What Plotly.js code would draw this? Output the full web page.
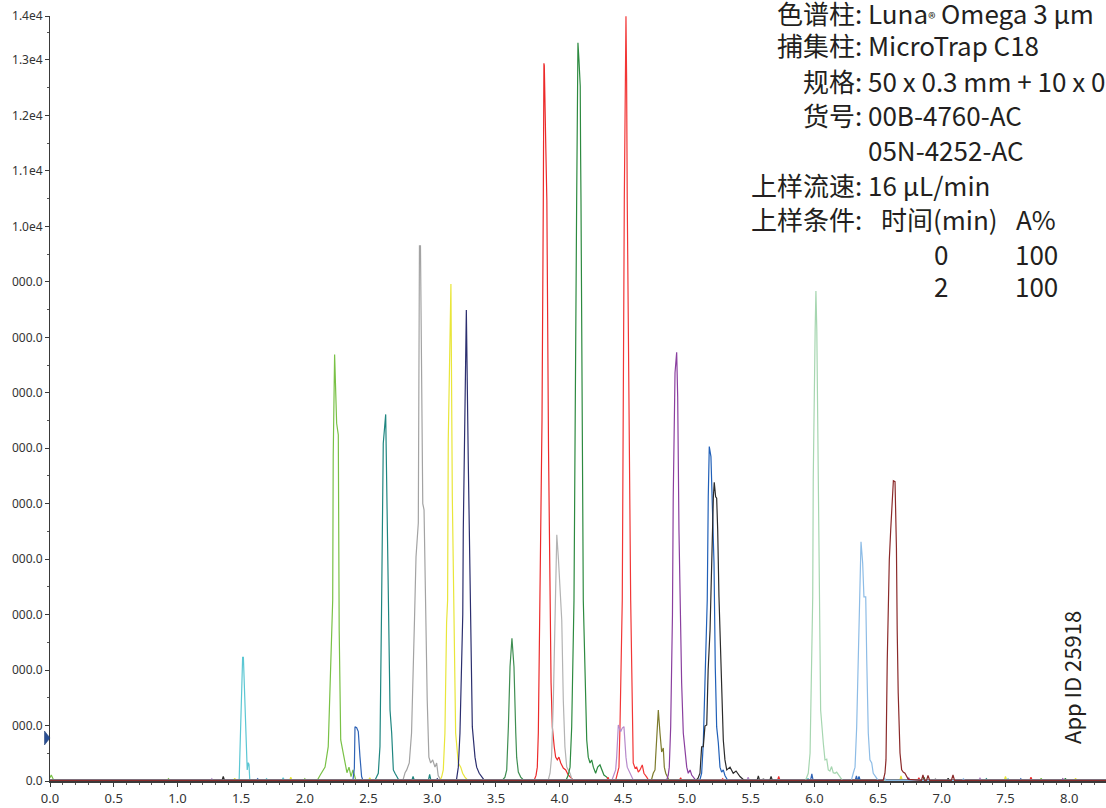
<!DOCTYPE html>
<html>
<head>
<meta charset="utf-8">
<script src="https://cdn.plot.ly/plotly-3.0.1.min.js"></script>
<style>html,body{margin:0;padding:0;background:#fff;}#chart{width:1106px;height:808px;}</style>
</head>
<body>
<div id="chart"></div>
<script>
// ---- Data (retention time in min, intensity in counts) ----
const cyanX = [0, 1.40, 1.48, 1.485, 1.512, 1.518, 1.548, 1.556, 1.562, 1.568, 1.60, 1.69, 1.70, 1.71, 1.82, 1.83, 1.84, 5.94, 5.95, 5.96, 7.51, 7.52, 7.53, 8.3];
const cyanY = [10, 10, 10, 40, 2230, 2230, 200, 330, 300, 20, 10, 10, 40, 10, 10, 60, 10, 10, 50, 10, 10, 40, 10, 10];

const lgreenX = [0, 0.01, 0.03, 0.92, 0.93, 0.94, 1.99, 2.00, 2.01, 2.10, 2.119, 2.159, 2.184, 2.206, 2.219, 2.223, 2.234, 2.250, 2.263, 2.270, 2.282, 2.302, 2.316, 2.331, 2.347, 2.363, 2.378, 2.40, 7.77, 7.78, 7.79, 8.3];
const lgreenY = [60, 110, 10, 10, 40, 10, 10, 40, 10, 20, 100, 250, 620, 2050, 3260, 5850, 7690, 6450, 6240, 2720, 740, 500, 325, 150, 250, 80, 200, 20, 10, 50, 10, 10];

const blueSmallX = [0, 1.62, 1.63, 1.64, 2.36, 2.378, 2.389, 2.394, 2.407, 2.420, 2.433, 2.446, 2.457, 5.97, 5.98, 5.99, 6.32, 6.33, 6.34, 7.61, 7.62, 7.63, 8.3];
const blueSmallY = [10, 10, 40, 10, 10, 20, 230, 980, 960, 890, 440, 80, 10, 10, 130, 10, 10, 90, 10, 10, 40, 10, 10];

const tealX = [0, 2.55, 2.577, 2.590, 2.602, 2.612, 2.616, 2.635, 2.648, 2.651, 2.669, 2.682, 2.695, 2.708, 2.724, 2.74, 2.84, 2.85, 2.86, 2.97, 2.98, 2.99, 7.34, 7.35, 7.36, 8.3];
const tealY = [10, 10, 140, 620, 3000, 4650, 6090, 6610, 4520, 3260, 1280, 865, 200, 140, 70, 10, 10, 80, 10, 10, 120, 10, 10, 40, 10, 10];

const grayX = [0, 2.77, 2.787, 2.800, 2.820, 2.838, 2.861, 2.873, 2.891, 2.900, 2.908, 2.924, 2.926, 2.936, 2.951, 2.961, 2.974, 2.988, 3.004, 3.022, 3.035, 3.047, 3.07, 5.59, 5.60, 5.61, 6.94, 6.95, 6.96, 8.3];
const grayY = [10, 10, 150, 200, 325, 865, 2900, 4040, 4650, 9650, 9650, 5400, 5000, 4890, 2720, 1460, 430, 325, 380, 250, 325, 100, 10, 10, 50, 10, 10, 40, 10, 10];

const yellowX = [0, 1.44, 1.45, 1.46, 1.88, 1.89, 1.90, 2.50, 2.51, 2.52, 3.06, 3.074, 3.087, 3.100, 3.113, 3.121, 3.126, 3.147, 3.158, 3.171, 3.184, 3.205, 3.224, 3.239, 3.257, 3.28, 6.67, 6.68, 6.69, 7.49, 7.50, 7.51, 8.04, 8.05, 8.06, 8.3];
const yellowY = [10, 10, 50, 10, 10, 70, 10, 10, 60, 10, 10, 70, 200, 865, 2850, 3260, 6150, 8960, 5120, 2900, 865, 325, 250, 140, 70, 10, 10, 90, 10, 10, 80, 10, 10, 50, 10, 10];

const navyX = [0, 3.03, 3.04, 3.05, 3.19, 3.205, 3.218, 3.240, 3.244, 3.257, 3.268, 3.283, 3.297, 3.300, 3.315, 3.336, 3.349, 3.369, 3.388, 3.41, 8.3];
const navyY = [10, 10, 40, 10, 10, 250, 865, 3000, 4520, 7000, 8490, 5790, 3930, 3300, 975, 430, 250, 140, 70, 10, 10];

const dgreenX = [0, 3.55, 3.571, 3.585, 3.598, 3.611, 3.626, 3.642, 3.656, 3.663, 3.676, 3.695, 3.72, 8.3];
const dgreenY = [10, 10, 70, 200, 980, 2060, 2573, 2060, 865, 430, 160, 70, 10, 10];

const redAX = [0, 3.80, 3.815, 3.825, 3.833, 3.846, 3.862, 3.872, 3.877, 3.880, 3.892, 3.900, 3.913, 3.925, 3.933, 3.943, 3.951, 3.958, 3.969, 3.982, 3.995, 4.009, 4.029, 4.048, 4.068, 4.087, 4.11, 4.94, 4.95, 4.96, 5.71, 5.72, 5.73, 6.81, 6.82, 6.83, 7.69, 7.70, 7.71, 8.3];
const redAY = [10, 10, 100, 250, 865, 3260, 6500, 10400, 12940, 12900, 11400, 10470, 6000, 3260, 1770, 975, 685, 613, 430, 380, 430, 325, 234, 200, 108, 70, 10, 10, 60, 10, 10, 80, 10, 10, 60, 10, 10, 70, 10, 10];

const lgrayX = [0, 3.91, 3.925, 3.937, 3.951, 3.964, 3.978, 3.991, 4.009, 4.017, 4.029, 4.042, 4.056, 4.068, 4.082, 4.10, 8.3];
const lgrayY = [10, 10, 140, 430, 1460, 3260, 4440, 4000, 3260, 2900, 1460, 613, 250, 200, 140, 10, 10];

const greenX = [0, 4.05, 4.068, 4.082, 4.095, 4.113, 4.134, 4.144, 4.152, 4.162, 4.165, 4.168, 4.186, 4.199, 4.213, 4.225, 4.239, 4.252, 4.265, 4.283, 4.299, 4.317, 4.330, 4.348, 4.370, 4.39, 6.85, 6.86, 6.87, 7.96, 7.97, 7.98, 8.3];
const greenY = [10, 10, 108, 250, 975, 3260, 10475, 13310, 13000, 12530, 11300, 10475, 3260, 1770, 740, 430, 325, 380, 250, 140, 250, 290, 200, 108, 70, 10, 10, 70, 10, 10, 50, 10, 10];

const redBX = [0, 4.37, 4.38, 4.39, 4.44, 4.453, 4.466, 4.474, 4.492, 4.508, 4.515, 4.521, 4.526, 4.529, 4.531, 4.558, 4.570, 4.578, 4.592, 4.605, 4.618, 4.631, 4.649, 4.662, 4.684, 4.70, 5.27, 5.28, 5.29, 8.3];
const redBY = [10, 10, 70, 10, 10, 108, 250, 975, 3260, 10480, 12500, 13790, 12690, 11380, 10480, 3260, 1150, 325, 234, 250, 160, 200, 290, 140, 70, 10, 10, 40, 10, 10];

const lpurpleX = [0, 1.26, 1.27, 1.28, 4.41, 4.427, 4.440, 4.448, 4.461, 4.479, 4.492, 4.505, 4.513, 4.521, 4.531, 4.553, 4.566, 4.58, 5.47, 5.48, 5.49, 7.29, 7.30, 7.31, 8.3];
const lpurpleY = [10, 10, 40, 10, 10, 108, 200, 430, 1010, 890, 955, 980, 685, 430, 250, 140, 50, 10, 10, 70, 10, 10, 60, 10, 10];

const oliveX = [0, 4.72, 4.735, 4.749, 4.754, 4.762, 4.775, 4.788, 4.801, 4.814, 4.822, 4.833, 4.845, 4.86, 8.3];
const oliveY = [10, 10, 140, 200, 430, 865, 1280, 865, 523, 595, 250, 140, 70, 10, 10];

const purpleX = [0, 4.84, 4.853, 4.861, 4.872, 4.886, 4.892, 4.906, 4.919, 4.927, 4.937, 4.945, 4.958, 4.971, 4.984, 4.998, 5.010, 5.024, 5.037, 5.049, 5.07, 6.73, 6.74, 6.75, 7.94, 7.95, 7.96, 8.3];
const purpleY = [10, 10, 108, 250, 975, 3000, 5120, 7356, 7730, 6920, 4525, 3100, 1767, 865, 505, 250, 140, 200, 108, 70, 10, 10, 60, 10, 10, 40, 10, 10];

const blueX = [0, 5.10, 5.115, 5.128, 5.141, 5.159, 5.167, 5.175, 5.188, 5.199, 5.212, 5.222, 5.233, 5.246, 5.259, 5.272, 5.285, 5.298, 5.32, 6.34, 6.35, 6.36, 8.3];
const blueY = [10, 10, 140, 685, 1767, 3264, 5120, 6030, 5850, 5065, 3930, 2055, 975, 685, 250, 160, 200, 100, 10, 10, 80, 10, 10];

const blackX = [0, 1.35, 1.36, 1.37, 5.07, 5.087, 5.102, 5.115, 5.128, 5.141, 5.155, 5.166, 5.181, 5.194, 5.207, 5.214, 5.225, 5.233, 5.241, 5.251, 5.259, 5.272, 5.285, 5.298, 5.312, 5.338, 5.363, 5.385, 5.416, 5.45, 5.55, 5.56, 5.57, 5.65, 5.66, 5.67, 7.04, 7.05, 7.06, 8.3];
const blackY = [10, 10, 80, 10, 10, 50, 140, 618, 620, 990, 1010, 2000, 2720, 4040, 5120, 5385, 5125, 5100, 4525, 3320, 2780, 1880, 740, 380, 200, 250, 140, 180, 80, 10, 10, 90, 10, 10, 80, 10, 10, 50, 10, 10];

const pgreenX = [0, 5.93, 5.952, 5.966, 5.987, 5.991, 6.006, 6.012, 6.019, 6.031, 6.038, 6.044, 6.049, 6.070, 6.083, 6.097, 6.109, 6.122, 6.135, 6.148, 6.162, 6.175, 6.201, 6.22, 8.3];
const pgreenY = [10, 10, 140, 500, 3320, 5430, 8130, 8835, 8130, 5120, 3985, 2850, 1280, 685, 380, 395, 200, 180, 260, 150, 140, 160, 70, 10, 10];

const lblueX = [0, 6.29, 6.305, 6.319, 6.332, 6.345, 6.354, 6.358, 6.366, 6.379, 6.389, 6.403, 6.406, 6.411, 6.423, 6.436, 6.450, 6.462, 6.483, 6.50, 6.54, 6.55, 6.56, 7.16, 7.17, 7.18, 8.3];
const lblueY = [10, 10, 140, 250, 975, 2490, 3300, 3985, 4315, 3930, 3320, 3320, 2720, 2180, 865, 380, 325, 140, 70, 10, 10, 60, 10, 10, 40, 10, 10];

const maroonX = [0, 6.54, 6.554, 6.562, 6.572, 6.588, 6.599, 6.611, 6.620, 6.633, 6.641, 6.644, 6.650, 6.658, 6.672, 6.685, 6.697, 6.711, 6.737, 6.84, 6.852, 6.865, 6.88, 6.892, 6.905, 7.075, 7.088, 7.10, 8.3];
const maroonY = [10, 10, 140, 380, 2180, 3985, 4525, 5200, 5415, 5400, 4525, 4200, 2720, 1585, 505, 200, 160, 140, 30, 10, 110, 10, 10, 100, 10, 10, 110, 10, 10];

// axis tick labels
const yTickVals = [0, 1000, 2000, 3000, 4000, 5000, 6000, 7000, 8000, 9000, 10000, 11000, 12000, 13000, 13793];
const yTickText = ['0.0', '000.0', '000.0', '000.0', '000.0', '000.0', '000.0', '000.0', '000.0', '000.0', '1.0e4', '1.1e4', '1.2e4', '1.3e4', '1.4e4'];

// text block
const infoLabels = ['色谱柱:', '捕集柱:', '规格:', '货号:', '', '上样流速:', '上样条件:'];
const infoValues = ['Luna<span style="font-size:15px">®</span> Omega 3 µm', 'MicroTrap C18', '50 x 0.3 mm + 10 x 0.3 mm', '00B-4760-AC', '05N-4252-AC', '16 µL/min', ''];
const tableHeader = ['时间(min)', 'A%'];
const tableTime = ['0', '2'];
const tableA = ['100', '100'];
const appId = 'App ID 25918';

// ---- Build ----
const series = [
  [cyanX, cyanY, '#5cc7d3'],
  [lgreenX, lgreenY, '#79c146'],
  [blueSmallX, blueSmallY, '#3064b6'],
  [tealX, tealY, '#1f8680'],
  [grayX, grayY, '#a3a3a3'],
  [yellowX, yellowY, '#e9e63a'],
  [navyX, navyY, '#2c2f6f'],
  [dgreenX, dgreenY, '#3f8e52'],
  [redAX, redAY, '#ec2a2a'],
  [lgrayX, lgrayY, '#b3b3b3'],
  [greenX, greenY, '#2d8a40'],
  [redBX, redBY, '#f23636'],
  [lpurpleX, lpurpleY, '#b78acb'],
  [oliveX, oliveY, '#7d7b2d'],
  [purpleX, purpleY, '#8a3f9f'],
  [blueX, blueY, '#2160b8'],
  [blackX, blackY, '#2b2b2b'],
  [pgreenX, pgreenY, '#a6d6b0'],
  [lblueX, lblueY, '#8dbce6'],
  [maroonX, maroonY, '#8b2a2a']
];

const traces = series.map(s => ({
  x: s[0], y: s[1], type: 'scatter', mode: 'lines',
  line: {color: s[2], width: 1.2}, hoverinfo: 'skip', showlegend: false
}));

const L = 50, T = 16, W = 1056, H = 765;
const px = v => (v - L) / W;
const py = v => (T + H - v) / H;
const txtFont = {family: 'Noto Sans CJK SC, Noto Sans, sans-serif', size: 26, color: '#231f20'};
const lineY = [12, 45, 80, 115, 149, 184, 219, 253, 285];

const annotations = [];
infoLabels.forEach((t, i) => {
  if (t) annotations.push({text: t, xref: 'paper', yref: 'paper', x: px(864), y: py(lineY[i]), xanchor: 'right', yanchor: 'middle', showarrow: false, font: txtFont});
});
infoValues.forEach((t, i) => {
  if (t) annotations.push({text: t, xref: 'paper', yref: 'paper', x: px(866), y: py(lineY[i]), xanchor: 'left', yanchor: 'middle', showarrow: false, font: txtFont});
});
annotations.push({text: tableHeader[0], xref: 'paper', yref: 'paper', x: px(879), y: py(lineY[6]), xanchor: 'left', yanchor: 'middle', showarrow: false, font: txtFont});
annotations.push({text: tableHeader[1], xref: 'paper', yref: 'paper', x: px(1014), y: py(lineY[6]), xanchor: 'left', yanchor: 'middle', showarrow: false, font: txtFont});
tableTime.forEach((t, i) => {
  annotations.push({text: t, xref: 'paper', yref: 'paper', x: px(941), y: py(lineY[7 + i]), xanchor: 'center', yanchor: 'middle', showarrow: false, font: txtFont});
  annotations.push({text: tableA[i], xref: 'paper', yref: 'paper', x: px(1013), y: py(lineY[7 + i]), xanchor: 'left', yanchor: 'middle', showarrow: false, font: txtFont});
});
annotations.push({text: appId, xref: 'paper', yref: 'paper', x: px(1071), y: py(678), xanchor: 'center', yanchor: 'middle', textangle: -90, showarrow: false, font: {family: 'Noto Sans CJK SC, Noto Sans, sans-serif', size: 22, color: '#231f20'}});

const tickFont = {family: 'Noto Sans, sans-serif', size: 12, color: '#333'};

const layout = {
  width: 1106, height: 808,
  margin: {l: L, r: 0, t: T, b: 27, pad: 0},
  paper_bgcolor: '#fff', plot_bgcolor: '#fff',
  showlegend: false,
  xaxis: {
    range: [0, 8.289], showgrid: false, zeroline: false,
    showline: true, linecolor: '#3a3a3a', linewidth: 2,
    ticks: 'outside', ticklen: 4, tickcolor: '#3a3a3a', tickwidth: 1,
    tickmode: 'linear', tick0: 0, dtick: 0.5, tickformat: '.1f',
    tickfont: {family: 'Noto Sans, sans-serif', size: 13, color: '#333'},
    minor: {ticks: 'outside', ticklen: 2, dtick: 0.1, tick0: 0, tickcolor: '#555', showgrid: false}
  },
  yaxis: {
    range: [0, 13793], showgrid: false, zeroline: false,
    showline: true, linecolor: '#3a3a3a', linewidth: 1,
    ticks: 'outside', ticklen: 4, tickcolor: '#3a3a3a', tickwidth: 1,
    tickmode: 'array', tickvals: yTickVals, ticktext: yTickText,
    tickfont: tickFont,
    minor: {ticks: 'outside', ticklen: 2, tickmode: 'linear', tick0: 500, dtick: 1000, tickcolor: '#555', showgrid: false}
  },
  shapes: [{
    type: 'path', xref: 'paper', yref: 'paper', layer: 'above',
    path: 'M ' + px(44.5) + ' ' + py(731) + ' L ' + px(50) + ' ' + py(738) + ' L ' + px(44.5) + ' ' + py(745) + ' Z',
    fillcolor: '#2a4f94', line: {color: '#1d3a70', width: 0.5}
  }],
  annotations: annotations
};

Plotly.newPlot('chart', traces, layout, {displayModeBar: false, staticPlot: true});
</script>
</body>
</html>
